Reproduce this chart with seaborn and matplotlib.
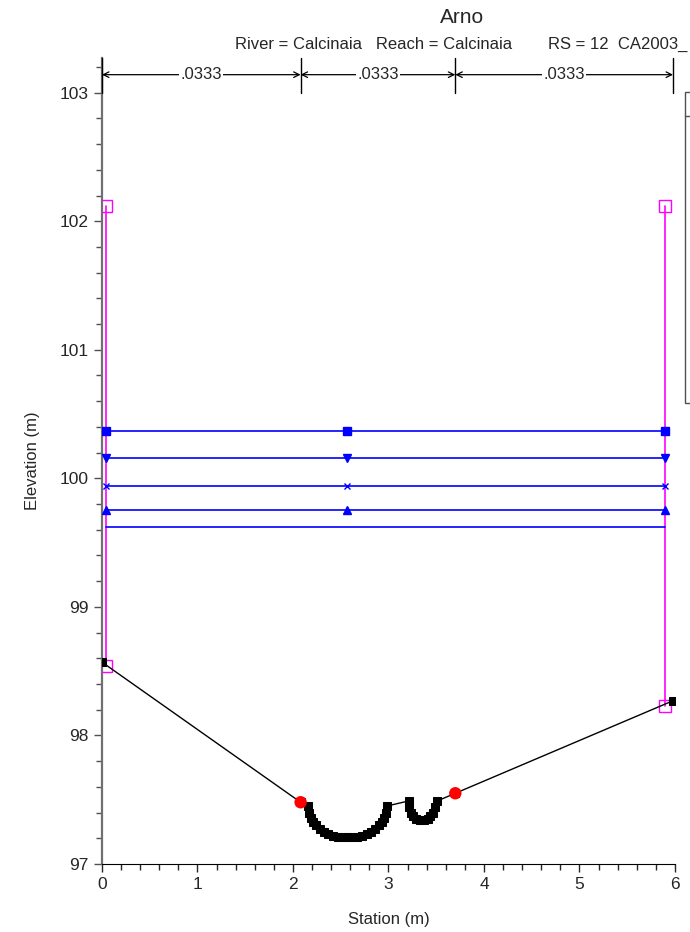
import numpy as np
import pandas as pd
import matplotlib
matplotlib.use('Agg')
import matplotlib.pyplot as plt
from matplotlib.patches import Rectangle
from matplotlib.lines import Line2D
from matplotlib.ticker import MultipleLocator
import seaborn as sns

# ground profile (station, elevation)
ground_x = [0.0, 2.08, 2.16, 2.17, 2.19, 2.21, 2.24, 2.28, 2.32, 2.37, 2.42, 2.47, 2.52,
            2.57, 2.62, 2.67, 2.72, 2.77, 2.82, 2.86, 2.90, 2.93, 2.95, 2.97, 2.98,
            3.21, 3.22, 3.24, 3.26, 3.29, 3.33, 3.37, 3.41, 3.44, 3.47, 3.49, 3.51,
            3.70, 5.98]
ground_y = [98.57, 97.48, 97.45, 97.40, 97.36, 97.33, 97.30, 97.27, 97.25, 97.23, 97.22, 97.21, 97.21,
            97.21, 97.21, 97.21, 97.22, 97.23, 97.25, 97.27, 97.30, 97.33, 97.36, 97.40, 97.45,
            97.49, 97.44, 97.40, 97.37, 97.35, 97.34, 97.34, 97.35, 97.37, 97.40, 97.44, 97.49,
            97.55, 98.27]

# bank stations
bank_x = [2.08, 3.70]
bank_y = [97.48, 97.55]

# levees / ineffective lines
left_lev_x = [0.04, 0.04]
left_lev_y = [98.54, 102.12]
right_lev_x = [5.90, 5.90]
right_lev_y = [98.23, 102.12]

# water surfaces
ws_x = [0.04, 2.57, 5.90]
ws_levels = [100.37, 100.16, 99.94, 99.755, 99.62]
ws_markers = ['s', 'v', 'x', '^', None]

# manning's n
n_breaks = [0.0, 2.08, 3.70, 5.98]
n_values = ['.0333', '.0333', '.0333']

sns.set_style('white')
plt.rcParams['font.family'] = ['Liberation Sans', 'DejaVu Sans']

fig = plt.figure(figsize=(6.9, 9.32), dpi=100)
ax = fig.add_axes([0.1478, 0.073, 0.8304, 0.8648])

# levees
for lx, ly in [(left_lev_x, left_lev_y), (right_lev_x, right_lev_y)]:
    ax.plot(lx, ly, color='#ff00ff', lw=1.2, marker='s', markersize=9,
            markerfacecolor='none', markeredgecolor='#ff00ff', markeredgewidth=1, zorder=3)

# water surfaces
for lev, mk in zip(ws_levels, ws_markers):
    df = pd.DataFrame({'x': ws_x, 'y': [lev] * len(ws_x)})
    sns.lineplot(data=df, x='x', y='y', ax=ax, color='#0000ff', lw=1.2, sort=False,
                 estimator=None, marker=mk if mk else '', markersize=6 if mk != 'x' else 5,
                 markeredgecolor='#0000ff', markeredgewidth=1, zorder=4)

# ground
gdf = pd.DataFrame({'x': ground_x, 'y': ground_y})
sns.lineplot(data=gdf, x='x', y='y', ax=ax, color='black', lw=1, sort=False, estimator=None,
             marker='s', markersize=5.5, markeredgecolor='black', zorder=5)
sns.scatterplot(x=bank_x, y=bank_y, ax=ax, color='red', s=80, edgecolor='none', zorder=6)

ax.set_xlim(0, 6)
ax.set_ylim(97, 103.27)
ax.xaxis.set_major_locator(MultipleLocator(1))
ax.xaxis.set_minor_locator(MultipleLocator(0.2))
ax.yaxis.set_major_locator(MultipleLocator(1))
ax.yaxis.set_minor_locator(MultipleLocator(0.2))
ax.tick_params(axis='both', which='major', length=6, width=1, labelsize=12.5, direction='out',
               bottom=True, left=True)
ax.tick_params(axis='both', which='minor', length=4, width=1, direction='out',
               bottom=True, left=True)
ax.tick_params(axis='y', which='both', color='#505050')
ax.set_xlabel('Station (m)', fontsize=12, labelpad=14)
ax.set_ylabel('Elevation (m)', fontsize=12, labelpad=14)
ax.spines['top'].set_visible(False)
ax.spines['right'].set_visible(False)
ax.spines['left'].set_color('#707070')
ax.spines['left'].set_linewidth(1.6)
ax.spines['bottom'].set_color('black')

# manning's n annotation
ya = 103.14
for xb in n_breaks:
    ax.plot([xb, xb], [103.0, 103.27], color='black', lw=1, clip_on=False, zorder=7)
for i, val in enumerate(n_values):
    x0, x1 = n_breaks[i], n_breaks[i + 1]
    ax.annotate('', xy=(x0, ya), xytext=(x1, ya),
                arrowprops=dict(arrowstyle='<->', color='black', lw=0.9,
                                shrinkA=0, shrinkB=0, mutation_scale=10),
                annotation_clip=False)
    ax.text((x0 + x1) / 2, ya, val, ha='center', va='center', fontsize=12,
            bbox=dict(facecolor='white', edgecolor='none', pad=1), zorder=8)

# titles
fig.text(0.67, 0.981, 'Arno', ha='center', va='center', fontsize=15)
fig.text(235 / 690, 0.952, 'River = Calcinaia   Reach = Calcinaia',
         ha='left', va='center', fontsize=12)
fig.text(687 / 690, 0.952, 'RS = 12  CA2003_',
         ha='right', va='center', fontsize=12)

# truncated legend box on the right edge
fig.patches.append(Rectangle((685 / 690, 1 - 403 / 932), 0.05, (403 - 92) / 932,
                             transform=fig.transFigure, facecolor='white',
                             edgecolor='#505050', lw=1))
fig.lines.append(Line2D([685 / 690, 1.0], [1 - 116 / 932, 1 - 116 / 932],
                        transform=fig.transFigure, color='#505050', lw=1))

fig.savefig('out.png', dpi=100)
